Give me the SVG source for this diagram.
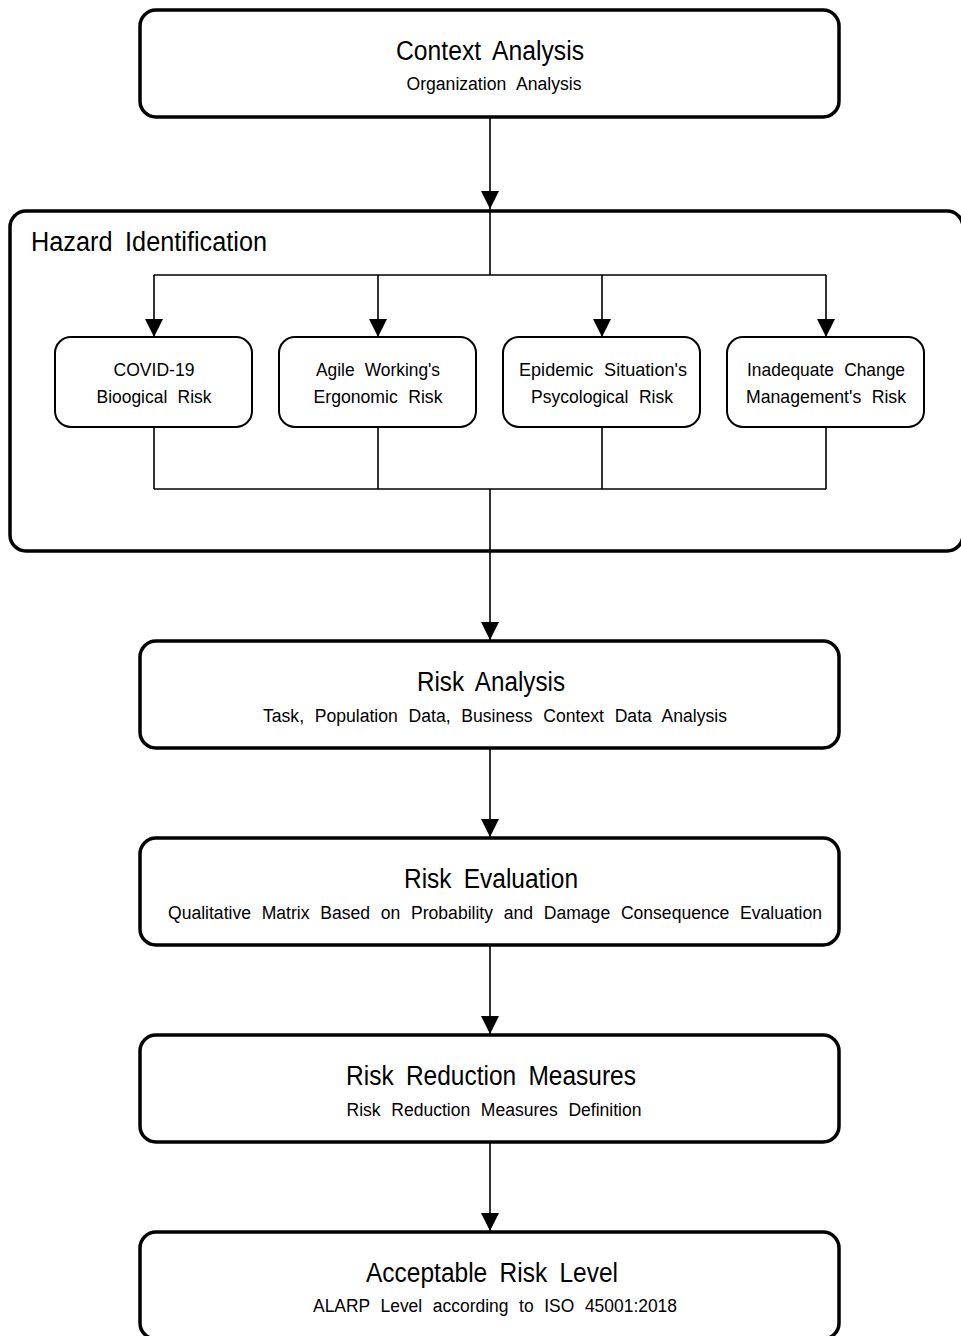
<svg xmlns="http://www.w3.org/2000/svg" width="961" height="1336" viewBox="0 0 961 1336">
<defs>
<style>
.main{fill:#fff;stroke:#000;stroke-width:3.5}
.small{fill:#fff;stroke:#000;stroke-width:2}
.conn{fill:none;stroke:#000;stroke-width:1.6}
text{font-family:"Liberation Sans",Arial,sans-serif;fill:#000;text-anchor:middle;word-spacing:6px}
.t{font-size:27px}
.s{font-size:18px}
.n{font-size:19px}
</style>
<marker id="ah" viewBox="0 0 18 18" refX="18" refY="9" markerWidth="18" markerHeight="18" markerUnits="userSpaceOnUse" orient="auto">
<path d="M0,0 L18,9 L0,18 Z" fill="#000"/>
</marker>
</defs>
<rect width="961" height="1336" fill="#fff"/>

<g id="hazard-identification">
<rect class="main" x="10" y="211" width="953" height="340" rx="16"/>
<text class="t" x="31" y="251" style="text-anchor:start" textLength="236" lengthAdjust="spacingAndGlyphs">Hazard Identification</text>
</g>

<g id="connectors">
<line class="conn" x1="490" y1="117" x2="490" y2="209" marker-end="url(#ah)"/>
<line class="conn" x1="490" y1="209" x2="490" y2="275"/>
<polyline class="conn" points="154,275 826,275"/>
<line class="conn" x1="154" y1="275" x2="154" y2="337" marker-end="url(#ah)"/>
<line class="conn" x1="378" y1="275" x2="378" y2="337" marker-end="url(#ah)"/>
<line class="conn" x1="602" y1="275" x2="602" y2="337" marker-end="url(#ah)"/>
<line class="conn" x1="826" y1="275" x2="826" y2="337" marker-end="url(#ah)"/>
<line class="conn" x1="154" y1="427" x2="154" y2="489"/>
<line class="conn" x1="378" y1="427" x2="378" y2="489"/>
<line class="conn" x1="602" y1="427" x2="602" y2="489"/>
<line class="conn" x1="826" y1="427" x2="826" y2="489"/>
<polyline class="conn" points="154,489 826,489"/>
<line class="conn" x1="490" y1="489" x2="490" y2="640" marker-end="url(#ah)"/>
<line class="conn" x1="490" y1="748" x2="490" y2="837" marker-end="url(#ah)"/>
<line class="conn" x1="490" y1="945" x2="490" y2="1034" marker-end="url(#ah)"/>
<line class="conn" x1="490" y1="1142" x2="490" y2="1231" marker-end="url(#ah)"/>
</g>

<g id="context-analysis">
<rect class="main" x="140" y="10" width="699" height="107" rx="16"/>
<text class="t" x="490" y="60" textLength="188" lengthAdjust="spacingAndGlyphs">Context Analysis</text>
<text class="s" x="494" y="90" textLength="175" lengthAdjust="spacingAndGlyphs">Organization Analysis</text>
</g>

<g id="covid-19">
<rect class="small" x="55" y="337" width="197" height="90" rx="16"/>
<text class="n" x="154" y="376" textLength="81" lengthAdjust="spacingAndGlyphs">COVID-19</text>
<text class="n" x="154" y="403" textLength="115" lengthAdjust="spacingAndGlyphs">Bioogical Risk</text>
</g>

<g id="agile-working">
<rect class="small" x="279" y="337" width="197" height="90" rx="16"/>
<text class="n" x="378" y="376" textLength="124" lengthAdjust="spacingAndGlyphs">Agile Working's</text>
<text class="n" x="378" y="403" textLength="129" lengthAdjust="spacingAndGlyphs">Ergonomic Risk</text>
</g>

<g id="epidemic-situation">
<rect class="small" x="503" y="337" width="197" height="90" rx="16"/>
<text class="n" x="603" y="376" textLength="168" lengthAdjust="spacingAndGlyphs">Epidemic Situation's</text>
<text class="n" x="602" y="403" textLength="142" lengthAdjust="spacingAndGlyphs">Psycological Risk</text>
</g>

<g id="inadequate-change">
<rect class="small" x="727" y="337" width="197" height="90" rx="16"/>
<text class="n" x="826" y="376" textLength="158" lengthAdjust="spacingAndGlyphs">Inadequate Change</text>
<text class="n" x="826" y="403" textLength="160" lengthAdjust="spacingAndGlyphs">Management's Risk</text>
</g>

<g id="risk-analysis">
<rect class="main" x="140" y="641" width="699" height="107" rx="16"/>
<text class="t" x="491" y="691" textLength="148" lengthAdjust="spacingAndGlyphs">Risk Analysis</text>
<text class="s" x="495" y="722" textLength="464" lengthAdjust="spacingAndGlyphs">Task, Population Data, Business Context Data Analysis</text>
</g>

<g id="risk-evaluation">
<rect class="main" x="140" y="838" width="699" height="107" rx="16"/>
<text class="t" x="491" y="888" textLength="174" lengthAdjust="spacingAndGlyphs">Risk Evaluation</text>
<text class="s" x="495" y="919" textLength="654" lengthAdjust="spacingAndGlyphs">Qualitative Matrix Based on Probability and Damage Consequence Evaluation</text>
</g>

<g id="risk-reduction-measures">
<rect class="main" x="140" y="1035" width="699" height="107" rx="16"/>
<text class="t" x="491" y="1085" textLength="290" lengthAdjust="spacingAndGlyphs">Risk Reduction Measures</text>
<text class="s" x="494" y="1116" textLength="295" lengthAdjust="spacingAndGlyphs">Risk Reduction Measures Definition</text>
</g>

<g id="acceptable-risk-level">
<rect class="main" x="140" y="1232" width="699" height="107" rx="16"/>
<text class="t" x="492" y="1282" textLength="252" lengthAdjust="spacingAndGlyphs">Acceptable Risk Level</text>
<text class="s" x="495" y="1312" textLength="364" lengthAdjust="spacingAndGlyphs">ALARP Level according to ISO 45001:2018</text>
</g>
</svg>
